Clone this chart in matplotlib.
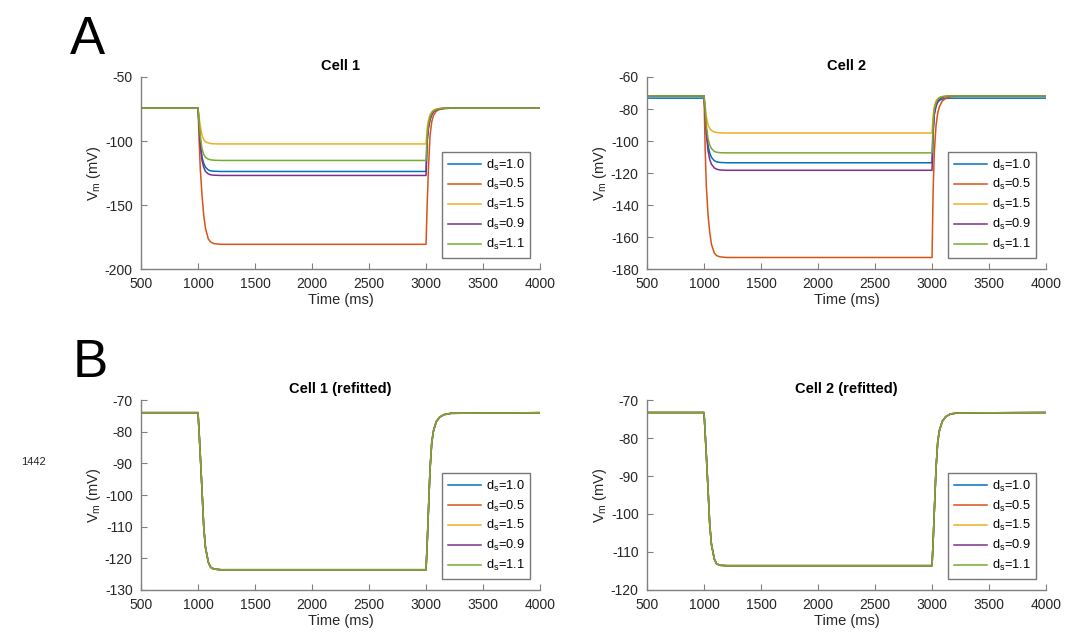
import matplotlib
matplotlib.use("Agg")
import matplotlib.pyplot as plt
import numpy as np

plt.rcParams['font.family'] = ['Liberation Sans', 'DejaVu Sans']
plt.rcParams['mathtext.fontset'] = 'custom'
plt.rcParams['mathtext.rm'] = 'Liberation Sans'
plt.rcParams['mathtext.it'] = 'Liberation Sans'
plt.rcParams['mathtext.default'] = 'regular'
plt.rcParams['axes.unicode_minus'] = False

t = [500, 1000, 1010, 1020, 1035, 1050, 1065, 1090, 1110, 1140, 1200,
     3000, 3010, 3020, 3035, 3050, 3065, 3090, 3120, 3160, 3220, 4000]

labels = ['1.0', '0.5', '1.5', '0.9', '1.1']
colors = ['#0072BD', '#D95319', '#EDB120', '#7E2F8E', '#77AC30']

# Cell 1, original fit (d_s = 1.0, 0.5, 1.5, 0.9, 1.1)
cell1 = [
    [-74.3, -74.3, -88.0, -101.0, -112.6, -117.5, -120.4, -122.6, -123.3, -123.6, -123.8,
     -123.8, -99.0, -89.5, -82.5, -79.0, -77.0, -75.5, -74.8, -74.4, -74.3, -74.3],
    [-74.3, -74.3, -100.0, -122.0, -142.4, -158.0, -168.0, -176.5, -178.8, -180.2, -180.7,
     -180.7, -150.0, -124.0, -96.0, -85.0, -80.0, -76.7, -75.3, -74.7, -74.4, -74.3],
    [-74.3, -74.3, -82.0, -88.0, -95.5, -98.8, -100.5, -101.6, -102.0, -102.2, -102.3,
     -102.3, -90.0, -84.0, -79.5, -77.2, -76.0, -75.0, -74.6, -74.4, -74.3, -74.3],
    [-74.3, -74.3, -89.0, -103.6, -115.2, -120.5, -123.8, -125.7, -126.4, -126.7, -126.9,
     -126.9, -101.0, -91.0, -83.5, -79.5, -77.3, -75.7, -74.9, -74.5, -74.3, -74.3],
    [-74.3, -74.3, -86.0, -95.8, -106.0, -110.5, -112.7, -114.2, -114.7, -115.0, -115.2,
     -115.2, -95.0, -87.0, -81.0, -78.0, -76.5, -75.3, -74.7, -74.4, -74.3, -74.3],
]

# Cell 2, original fit
cell2 = [
    [-73.2, -73.2, -82.0, -93.0, -103.0, -107.5, -110.2, -112.3, -113.0, -113.4, -113.6,
     -113.6, -93.0, -83.0, -78.2, -75.8, -74.6, -73.8, -73.4, -73.25, -73.2, -73.2],
    [-71.8, -71.8, -105.0, -128.0, -146.0, -157.0, -164.5, -170.0, -171.6, -172.4, -172.8,
     -172.8, -130.0, -107.0, -90.4, -82.5, -78.5, -75.0, -73.3, -72.3, -71.9, -71.8],
    [-71.8, -71.8, -78.0, -84.5, -89.8, -92.2, -93.4, -94.4, -94.7, -94.9, -95.0,
     -95.0, -84.0, -78.5, -75.0, -73.5, -72.7, -72.2, -71.95, -71.85, -71.8, -71.8],
    [-71.8, -71.8, -83.0, -95.0, -106.0, -111.5, -114.5, -116.8, -117.6, -118.1, -118.3,
     -118.3, -95.0, -83.5, -78.0, -75.3, -73.8, -72.8, -72.2, -71.9, -71.8, -71.8],
    [-71.8, -71.8, -80.0, -90.0, -98.5, -102.5, -104.7, -106.5, -107.0, -107.3, -107.4,
     -107.4, -88.0, -80.0, -76.0, -74.0, -73.0, -72.3, -72.0, -71.85, -71.8, -71.8],
]

# refitted traces: the five d_s values give the same curve
cell1_refit = [-74.0, -74.0, -80.5, -87.5, -98.5, -110.0, -116.5, -121.2, -122.8, -123.4, -123.6,
               -123.6, -115.5, -106.0, -92.0, -83.5, -79.8, -76.8, -75.4, -74.6, -74.2, -74.0]
cell2_refit = [-73.3, -73.3, -78.7, -84.4, -93.4, -102.7, -108.0, -111.8, -113.1, -113.5, -113.6,
               -113.6, -107.0, -99.3, -88.0, -81.0, -78.0, -75.6, -74.4, -73.7, -73.4, -73.3]

panels = [
    ("Cell 1", cell1, (-200, -50), [-200, -150, -100, -50], [0.1318, 0.579]),
    ("Cell 2", cell2, (-180, -60), list(range(-180, -59, 20)), [0.6047, 0.579]),
    ("Cell 1 (refitted)", [cell1_refit] * 5, (-130, -70), list(range(-130, -69, 10)), [0.1318, 0.0767]),
    ("Cell 2 (refitted)", [cell2_refit] * 5, (-120, -70), list(range(-120, -69, 10)), [0.6047, 0.0767]),
]

axcol = '#262626'
fig = plt.figure(figsize=(10.7, 6.39), dpi=100)

for i, (title, traces, ylim, yticks, pos) in enumerate(panels):
    h = 0.3005 if i < 2 else 0.2973
    ax = fig.add_axes([pos[0], pos[1], 0.3729, h])
    for vals, lab, c in zip(traces, labels, colors):
        ax.plot(t, vals, color=c, lw=1.1, label=r'd$_s$=' + lab)
    ax.set_xlim(500, 4000)
    ax.set_ylim(*ylim)
    ax.set_xticks(range(500, 4001, 500))
    ax.set_yticks(yticks)
    ax.set_title(title, fontsize=10.5, fontweight='bold', color='black', pad=5)
    ax.set_xlabel('Time (ms)', fontsize=10.5, color=axcol, labelpad=1)
    ax.set_ylabel(r'V$_m$ (mV)', fontsize=10.5, color=axcol, labelpad=1)
    for s in ['top', 'right']:
        ax.spines[s].set_visible(False)
    for s in ['left', 'bottom']:
        ax.spines[s].set_color('#808080')
        ax.spines[s].set_linewidth(1.0)
    ax.tick_params(direction='in', length=4, width=0.8, color='#808080',
                   labelsize=10, labelcolor=axcol, pad=6)
    leg = ax.legend(loc='lower right', bbox_to_anchor=(0.975, 0.057), fontsize=9.2,
                    frameon=True, fancybox=False, handlelength=2.6, handletextpad=0.35,
                    labelspacing=0.38, borderpad=0.45, borderaxespad=0)
    leg.get_frame().set_edgecolor('#555555')
    leg.get_frame().set_linewidth(1.0)

fig.text(0.065, 0.915, 'A', fontsize=38, ha='left', va='baseline')
fig.text(0.068, 0.41, 'B', fontsize=38, ha='left', va='baseline')
fig.text(0.020, 0.277, '1442', fontsize=8, ha='left', va='center', color=axcol)

fig.savefig('out.png', dpi=100)
